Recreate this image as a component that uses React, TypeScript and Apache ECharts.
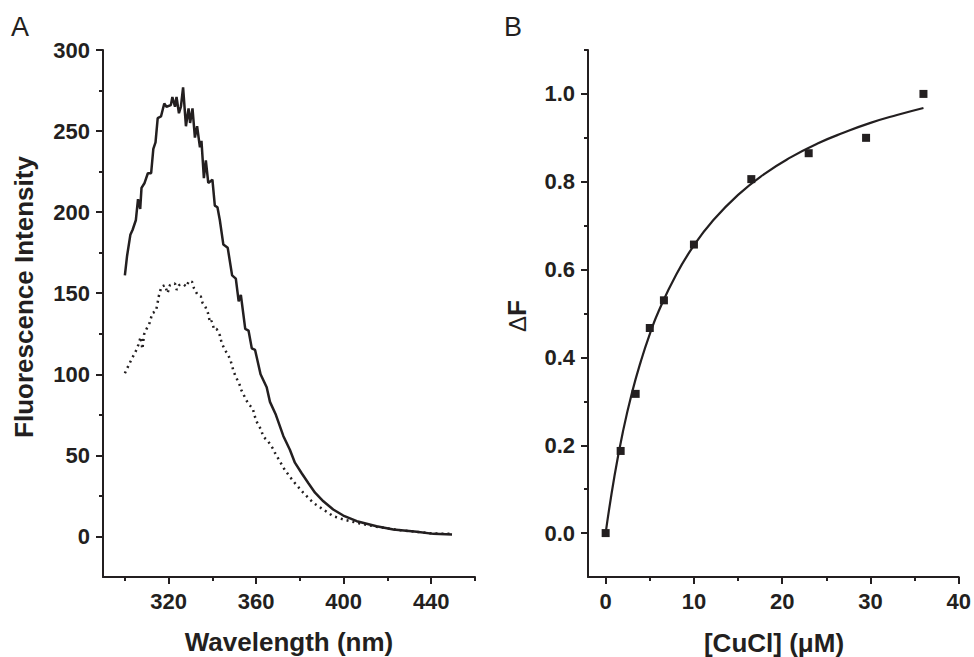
import React, { useEffect, useRef } from "react";
import * as echarts from "echarts";

// Panel A: fluorescence spectra (wavelength nm, intensity)
const wlSolid = [300, 301, 302.5, 303.5, 305, 306, 307, 307.6, 309, 310.5, 312, 313, 314, 315, 316.5, 318, 319, 321, 321.7, 322.9, 323.6, 324.7, 325.6, 326.6, 327.9, 329.1, 329.8, 330.9, 332, 333, 334.3, 335, 336.1, 337, 338.1, 340, 341.1, 342.3, 343.4, 345, 347, 349, 350.7, 352, 353, 355, 356.5, 358, 359.5, 362, 364.8, 366.3, 369, 372.4, 375.4, 377.7, 380.8, 383.8, 386.9, 390.7, 395.2, 399.8, 406, 415, 422.7, 433.4, 441, 449.5];
const intSolid = [161, 173, 186, 189, 195, 208, 202, 215, 218, 224, 224, 239, 243, 258, 259, 267, 265, 266, 271, 265, 271, 261, 265, 277, 253, 264, 255, 264, 246, 253, 240, 244, 221, 232, 218, 220, 204, 203, 195, 180, 178, 161, 159, 145, 149, 128, 127, 116, 115, 100, 92, 83, 75, 62, 53.5, 45.5, 39, 33, 27, 21.7, 16.6, 12.9, 9.4, 6.3, 4.3, 2.9, 1.6, 1.2];

const wlDotted = [300, 301.5, 303.3, 304.9, 306.1, 307.2, 308, 308.8, 309.9, 311.4, 312.5, 314.2, 314.9, 315.6, 316.7, 318.3, 319.5, 320.6, 322.9, 323.7, 324.8, 326.6, 328.2, 329.2, 330.7, 331.6, 333.2, 334.7, 335.5, 336.8, 338, 338.9, 339.6, 340.8, 341.9, 343.4, 344.2, 345.7, 347.2, 348.4, 349.5, 350.6, 352.2, 353.3, 354.9, 356.4, 358.4, 359.4, 360.5, 362.2, 363.2, 365.5, 367.5, 368.6, 373.1, 377, 381.5, 386.1, 390.7, 395.2, 399.8, 407.4, 415, 425.7, 441, 448.6];
const intDotted = [100.6, 105, 110, 114, 118, 123, 115.6, 124.7, 128, 132, 137.6, 139, 143.7, 148.8, 154, 155, 150, 155, 156, 152, 155, 155.6, 154, 157.6, 157, 153, 149, 148, 144, 141.6, 137.6, 132, 133, 127.7, 128, 124, 119.5, 115, 112, 108, 102.7, 98.6, 94.5, 90, 85.7, 81.8, 79, 74, 70, 66, 61.7, 58.6, 54.5, 51.5, 41, 34, 27, 20.7, 16.6, 12.5, 10.5, 8, 6, 3.9, 1.8, 1.6];

// Panel B: titration points and fitted curve
const cucl = [0, 1.7, 3.4, 5, 6.6, 10, 16.5, 23, 29.5, 36];
const deltaF = [0, 0.187, 0.317, 0.467, 0.53, 0.657, 0.806, 0.865, 0.9, 1.0];
const fitX = [0, 1, 2, 3, 4, 5, 6, 8, 10, 12, 15, 18, 21, 24, 27, 30, 33, 36];
const fitY = [0, 0.13, 0.235, 0.321, 0.392, 0.453, 0.505, 0.589, 0.655, 0.708, 0.77, 0.818, 0.856, 0.887, 0.912, 0.934, 0.952, 0.968];

// Tick labels
const aXMajor = [320, 360, 400, 440];
const aXMinor = [300, 340, 380, 420, 460];
const aYMajor = [0, 50, 100, 150, 200, 250, 300];
const aYMinor = [25, 75, 125, 175, 225, 275];
const bXMajor = [0, 10, 20, 30, 40];
const bXMinor = [5, 15, 25, 35];
const bYMajor = [0, 0.2, 0.4, 0.6, 0.8, 1.0];
const bYMinor = [0.1, 0.3, 0.5, 0.7, 0.9, 1.1];

const INK = "#231f20";
const FONT = "Liberation Sans, Arial, sans-serif";

function zip(a: number[], b: number[]) {
  return a.map((v, i) => [v, b[i]]);
}

function axis(
  gridIndex: number,
  position: string,
  min: number,
  max: number,
  ticks: number[],
  major: boolean,
  fmt?: (v: number) => string
) {
  return {
    type: "value",
    gridIndex,
    position,
    offset: 0,
    min,
    max,
    axisLine: { show: major, onZero: false, lineStyle: { color: INK, width: 2 } },
    axisTick: {
      show: true,
      customValues: ticks,
      length: major ? 7 : 4,
      lineStyle: { color: INK, width: 2 },
    },
    axisLabel: major
      ? {
          show: true,
          customValues: ticks,
          color: INK,
          fontFamily: FONT,
          fontWeight: "bold",
          fontSize: 22,
          margin: 13,
          formatter: fmt ? (v: number) => fmt(v) : undefined,
        }
      : { show: false },
    splitLine: { show: false },
    minorTick: { show: false },
  };
}

export default function App() {
  const ref = useRef<HTMLDivElement>(null);
  useEffect(() => {
    if (!ref.current) return;
    const chart = echarts.init(ref.current, undefined, { renderer: "svg" });
    chart.setOption({
      animation: false,
      backgroundColor: "#ffffff",
      grid: [
        { left: 103, top: 50, width: 372, height: 527 },
        { left: 588, top: 50, width: 372, height: 527 },
      ],
      xAxis: [
        axis(0, "bottom", 290, 460, aXMajor, true),
        axis(0, "bottom", 290, 460, aXMinor, false),
        axis(1, "bottom", -2, 40, bXMajor, true),
        axis(1, "bottom", -2, 40, bXMinor, false),
      ],
      yAxis: [
        axis(0, "left", -25, 300, aYMajor, true),
        axis(0, "left", -25, 300, aYMinor, false),
        axis(1, "left", -0.1, 1.1, bYMajor, true, (v) => v.toFixed(1)),
        axis(1, "left", -0.1, 1.1, bYMinor, false),
      ],
      series: [
        {
          type: "line",
          xAxisIndex: 0,
          yAxisIndex: 0,
          data: zip(wlSolid, intSolid),
          showSymbol: false,
          symbol: "none",
          lineStyle: { color: INK, width: 2.5 },
        },
        {
          type: "line",
          xAxisIndex: 0,
          yAxisIndex: 0,
          data: zip(wlDotted, intDotted),
          showSymbol: false,
          symbol: "none",
          lineStyle: { color: INK, width: 2.5, type: [2, 4] },
        },
        {
          type: "line",
          xAxisIndex: 2,
          yAxisIndex: 2,
          data: zip(fitX, fitY),
          smooth: true,
          showSymbol: false,
          symbol: "none",
          lineStyle: { color: INK, width: 2.2 },
        },
        {
          type: "scatter",
          xAxisIndex: 2,
          yAxisIndex: 2,
          data: zip(cucl, deltaF),
          symbol: "rect",
          symbolSize: 8,
          itemStyle: { color: INK, opacity: 1 },
        },
      ],
      graphic: [
        {
          type: "text",
          x: 20,
          y: 27,
          style: { text: "A", fill: INK, font: `normal 27px ${FONT}`, align: "center", verticalAlign: "middle" },
        },
        {
          type: "text",
          x: 513,
          y: 27,
          style: { text: "B", fill: INK, font: `normal 27px ${FONT}`, align: "center", verticalAlign: "middle" },
        },
        {
          type: "text",
          x: 24,
          y: 297,
          rotation: Math.PI / 2,
          style: {
            text: "Fluorescence Intensity",
            fill: INK,
            font: `bold 26px ${FONT}`,
            align: "center",
            verticalAlign: "middle",
          },
        },
        {
          type: "text",
          x: 289,
          y: 642,
          style: { text: "Wavelength (nm)", fill: INK, font: `bold 26px ${FONT}`, align: "center", verticalAlign: "middle" },
        },
        {
          type: "text",
          x: 517,
          y: 316,
          rotation: Math.PI / 2,
          style: {
            text: "{d|Δ}{f|F}",
            fill: INK,
            align: "center",
            verticalAlign: "middle",
            rich: {
              d: { fontFamily: FONT, fontWeight: "normal", fontSize: 24, fill: INK, color: INK },
              f: { fontFamily: FONT, fontWeight: "bold", fontSize: 26, fill: INK, color: INK },
            },
          },
        },
        {
          type: "text",
          x: 774,
          y: 643,
          style: { text: "[CuCl] (μM)", fill: INK, font: `bold 26px ${FONT}`, align: "center", verticalAlign: "middle" },
        },
      ],
    });
    return () => chart.dispose();
  }, []);
  return (
    <div
      ref={ref}
      style={{ position: "absolute", left: 0, top: 0, width: 974, height: 657, background: "#fff" }}
    />
  );
}
